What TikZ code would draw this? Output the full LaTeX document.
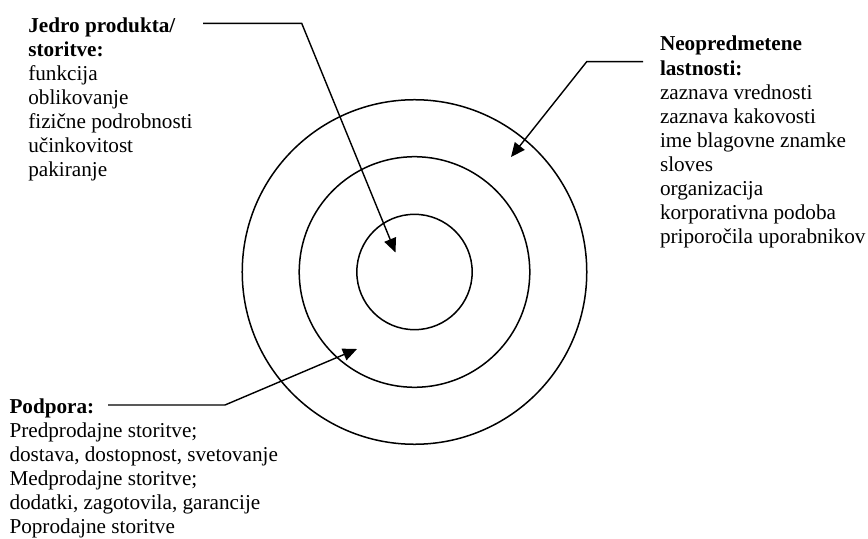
\documentclass[tikz,border=0pt]{standalone}
\usepackage{fontspec}
\setmainfont{Liberation Serif}
\usetikzlibrary{arrows.meta}
\tikzset{
  ring/.style={circle, draw, line width=0.85pt, inner sep=0pt, outer sep=0pt},
  conn/.style={line width=0.8pt, -{Triangle[length=8pt,width=7pt]}},
  txt/.style={anchor=base west, inner sep=0pt, outer sep=0pt,
    font=\fontsize{12}{13.65}\selectfont}
}
\begin{document}
\begin{tikzpicture}[x=0.566pt, y=-0.566pt]
\useasboundingbox (0,0) rectangle (868,539);
% circles
\coordinate (c) at (414.5,272);
\node[ring, minimum size=195pt] (outer) at (c) {};
\node[ring, minimum size=130.5pt] (middle) at (c) {};
\node[ring, minimum size=65.3pt] (inner) at (c) {};
% texts
\node[txt] (jedro) at (28.3,32.3) {\begin{tabular}[t]{@{}l@{}}
\textbf{Jedro produkta/}\\
\textbf{storitve:}\\
funkcija\\
oblikovanje\\
fizične podrobnosti\\
učinkovitost\\
pakiranje
\end{tabular}};
\node[txt] (neo) at (660,51) {\begin{tabular}[t]{@{}l@{}}
\textbf{Neopredmetene}\\
\textbf{lastnosti:}\\
zaznava vrednosti\\
zaznava kakovosti\\
ime blagovne znamke\\
sloves\\
organizacija\\
korporativna podoba\\
priporočila uporabnikov
\end{tabular}};
\node[txt] (podpora) at (9.5,413) {\begin{tabular}[t]{@{}l@{}}
\textbf{Podpora:}\\
Predprodajne storitve;\\
dostava, dostopnost, svetovanje\\
Medprodajne storitve;\\
dodatki, zagotovila, garancije\\
Poprodajne storitve
\end{tabular}};
% connector points
\coordinate (jS) at (203,23.3);
\coordinate (jB) at (301.7,23.3);
\coordinate (jT) at (395.5,252.5);
\coordinate (nS) at (643,61.7);
\coordinate (nB) at (586.7,61.7);
\coordinate (nT) at (511,157);
\coordinate (pS) at (108,405);
\coordinate (pB) at (225,405);
\coordinate (pT) at (357,349);
\draw[conn] (jS) -- (jB) -- (jT);
\draw[conn] (nS) -- (nB) -- (nT);
\draw[conn] (pS) -- (pB) -- (pT);
\end{tikzpicture}
\end{document}
